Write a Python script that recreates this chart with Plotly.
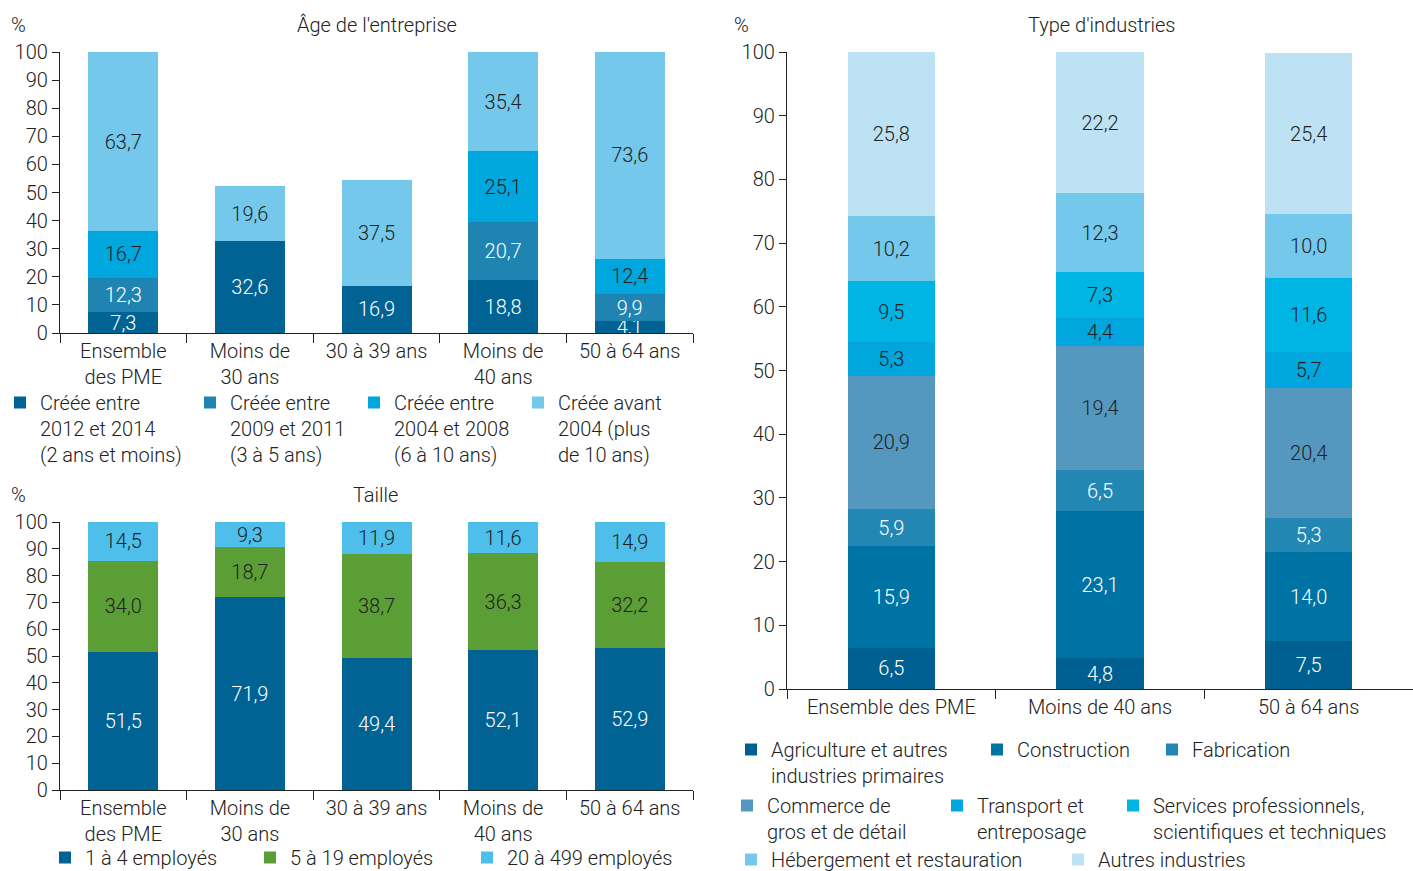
import plotly.graph_objects as go

W, H = 1413, 871

# ---------------- Data ----------------
age_categories = ["Ensemble<br>des PME", "Moins de<br>30 ans", "30 à 39 ans", "Moins de<br>40 ans", "50 à 64 ans"]
age_series_names = ["Créée entre<br>2012 et 2014<br>(2 ans et moins)",
                    "Créée entre<br>2009 et 2011<br>(3 à 5 ans)",
                    "Créée entre<br>2004 et 2008<br>(6 à 10 ans)",
                    "Créée avant<br>2004 (plus<br>de 10 ans)"]
age_s1 = [7.3, 32.6, 16.9, 18.8, 4.1]
age_s2 = [12.3, None, None, 20.7, 9.9]
age_s3 = [16.7, None, None, 25.1, 12.4]
age_s4 = [63.7, 19.6, 37.5, 35.4, 73.6]

size_categories = ["Ensemble<br>des PME", "Moins de<br>30 ans", "30 à 39 ans", "Moins de<br>40 ans", "50 à 64 ans"]
size_series_names = ["1 à 4 employés", "5 à 19 employés", "20 à 499 employés"]
size_s1 = [51.5, 71.9, 49.4, 52.1, 52.9]
size_s2 = [34.0, 18.7, 38.7, 36.3, 32.2]
size_s3 = [14.5, 9.3, 11.9, 11.6, 14.9]

ind_categories = ["Ensemble des PME", "Moins de 40 ans", "50 à 64 ans"]
ind_series_names = ["Agriculture et autres<br>industries primaires", "Construction", "Fabrication",
                    "Commerce de<br>gros et de détail", "Transport et<br>entreposage",
                    "Services professionnels,<br>scientifiques et techniques",
                    "Hébergement et restauration", "Autres industries"]
ind_agri = [6.5, 4.8, 7.5]
ind_constr = [15.9, 23.1, 14.0]
ind_fabr = [5.9, 6.5, 5.3]
ind_comm = [20.9, 19.4, 20.4]
ind_transp = [5.3, 4.4, 5.7]
ind_serv = [9.5, 7.3, 11.6]
ind_heberg = [10.2, 12.3, 10.0]
ind_autres = [25.8, 22.2, 25.4]

y_ticks_left = [0, 10, 20, 30, 40, 50, 60, 70, 80, 90, 100]
y_ticks_right = [0, 10, 20, 30, 40, 50, 60, 70, 80, 90, 100]

# ---------------- Style ----------------
FONT = "Roboto, Liberation Sans, Arial, sans-serif"
WEIGHT = 300
TXT = "#222222"
FS = 20


def fnt(size=FS, color=TXT):
    return dict(family=FONT, size=size, color=color, weight=WEIGHT)


age_colors = ["#006394", "#2084b2", "#00a7de", "#73c8eb"]
age_text = ["white", "white", TXT, TXT]
size_colors = ["#006394", "#5c9e36", "#4dbfea"]
size_text = ["white", TXT, TXT]
ind_colors = ["#005f91", "#0073a5", "#2387b4", "#5598bf", "#00a6dd", "#00b5e3", "#73c8eb", "#bde2f4"]
ind_text = ["white", "white", "white", TXT, TXT, TXT, TXT, TXT]


def px(x):
    return x / W


def py(y):
    return 1 - y / H


fig = go.Figure()

age_leg_pos = [(0, 383), (190, 383), (354, 383), (518, 383)]
size_leg_pos = [(45, 838), (250, 838), (467, 838)]
ind_leg_pos = [(731, 730), (977, 730), (1152, 730),
               (727, 786), (937, 786), (1113, 786),
               (731, 840), (1058, 840)]

legend_layouts = {}
leg_idx = [0]


def new_legend(xpix, ypix):
    leg_idx[0] += 1
    name = "legend" if leg_idx[0] == 1 else f"legend{leg_idx[0]}"
    legend_layouts[name] = dict(
        x=px(xpix), y=py(ypix), xanchor="left", yanchor="top",
        bgcolor="rgba(0,0,0,0)", borderwidth=0, valign="top",
        font=fnt(), itemclick=False, itemdoubleclick=False, tracegroupgap=0,
    )
    return name


def add_bars(cats, vals, name, color, tcolor, xa, ya, width, legpos):
    lg = new_legend(*legpos)
    fig.add_trace(go.Bar(
        x=cats, y=vals, name=name, marker=dict(color=color, line=dict(width=0)),
        width=width, texttemplate="%{y:.1f}", textposition="inside",
        insidetextanchor="middle", constraintext="none", cliponaxis=False,
        textfont=fnt(FS, tcolor),
        xaxis=xa, yaxis=ya, legend=lg, hoverinfo="skip",
    ))


age_vals = [age_s1, age_s2, age_s3, age_s4]
for i in range(4):
    add_bars(age_categories, age_vals[i], age_series_names[i], age_colors[i], age_text[i],
             "x", "y", 0.553, age_leg_pos[i])

size_vals = [size_s1, size_s2, size_s3]
for i in range(3):
    add_bars(size_categories, size_vals[i], size_series_names[i], size_colors[i], size_text[i],
             "x2", "y2", 0.553, size_leg_pos[i])

ind_vals = [ind_agri, ind_constr, ind_fabr, ind_comm, ind_transp, ind_serv, ind_heberg, ind_autres]
for i in range(8):
    add_bars(ind_categories, ind_vals[i], ind_series_names[i], ind_colors[i], ind_text[i],
             "x3", "y3", 0.42, ind_leg_pos[i])

axis_common = dict(showline=True, linecolor="#222222", linewidth=1.3, showgrid=False, zeroline=False,
                   tickfont=fnt(), ticks="outside",
                   tickcolor="#222222", automargin=False, fixedrange=True)

xa_common = dict(axis_common, tickson="boundaries", ticklen=9, type="category")
ya_common = dict(axis_common, range=[0, 100], tickvals=y_ticks_left, ticklen=7, tickwidth=1.3)

fig.update_layout(
    width=W, height=H, margin=dict(l=0, r=0, t=0, b=0, autoexpand=False),
    paper_bgcolor="white", plot_bgcolor="white",
    barmode="stack", separators=", ",
    font=fnt(),
    showlegend=True,
    xaxis=dict(xa_common, domain=[px(60), px(693)], anchor="y"),
    yaxis=dict(ya_common, domain=[py(333), py(52)], anchor="x"),
    xaxis2=dict(xa_common, domain=[px(60), px(693)], anchor="y2"),
    yaxis2=dict(ya_common, domain=[py(790), py(522)], anchor="x2"),
    xaxis3=dict(xa_common, domain=[px(787), 1.0], anchor="y3"),
    yaxis3=dict(ya_common, domain=[py(689), py(52)], anchor="x3", tickvals=y_ticks_right),
    **legend_layouts,
)

annots = [
    ("%", 18, 25),
    ("Âge de l'entreprise", 377, 25),
    ("%", 18, 495),
    ("Taille", 375, 495),
    ("%", 742, 25),
    ("Type d'industries", 1101, 25),
]
for t, x, y in annots:
    fig.add_annotation(text=t, x=px(x), y=py(y), xref="paper", yref="paper",
                       xanchor="center", yanchor="middle", showarrow=False,
                       font=fnt())

fig.write_html("out.html", config={"displayModeBar": False},
               post_script="document.body.style.margin='0px';document.body.style.overflow='hidden';")
